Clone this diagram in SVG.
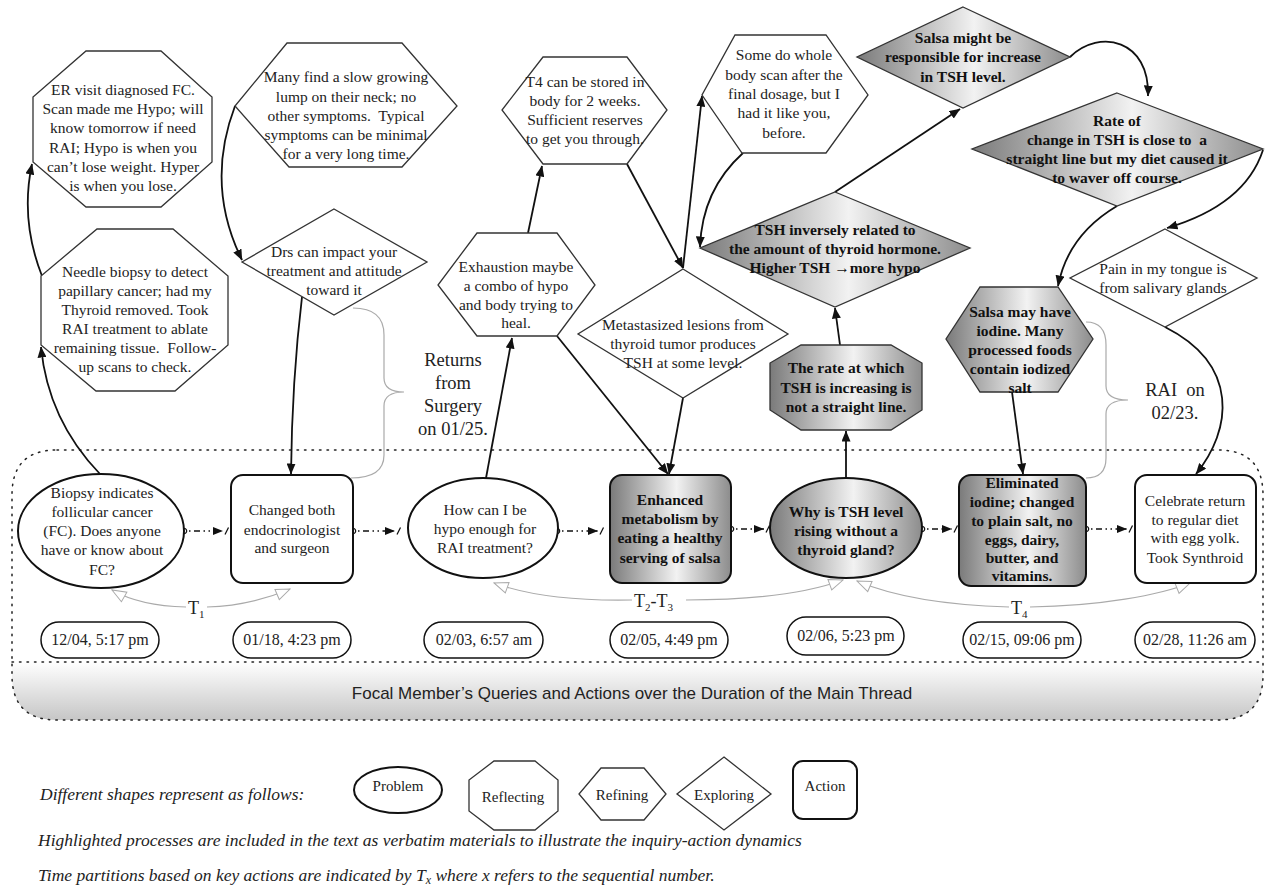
<svg xmlns="http://www.w3.org/2000/svg" width="1265" height="893" viewBox="0 0 1265 893">
<style>
.t{font-family:"Liberation Serif","Times New Roman",serif;font-size:15.5px;fill:#222;text-anchor:middle}
.b{font-weight:bold;fill:#111}
.big{font-family:"Liberation Serif","Times New Roman",serif;font-size:18.5px;fill:#222;text-anchor:middle}
.date{font-family:"Liberation Serif","Times New Roman",serif;font-size:16px;fill:#222;text-anchor:middle}
.lg{font-family:"Liberation Serif","Times New Roman",serif;font-size:15px;fill:#222;text-anchor:middle}
.it{font-family:"Liberation Serif","Times New Roman",serif;font-size:17.5px;font-style:italic;fill:#222}
.shape{fill:#fff;stroke:#333;stroke-width:1.3}
.hls{fill:url(#hl);stroke:#333;stroke-width:1.3}
.thick{fill:#fff;stroke:#111;stroke-width:2}
.thickhl{fill:url(#hl);stroke:#111;stroke-width:2}
.con{fill:none;stroke:#111;stroke-width:1.8;marker-end:url(#ah)}
.dd{fill:none;stroke:#111;stroke-width:1.6;stroke-dasharray:1.5 3.5 1.5 3.5 6 3.5;marker-start:url(#dot);marker-end:url(#ahtick)}
.tc{fill:none;stroke:#aaa;stroke-width:1.1;marker-end:url(#hollow)}
.brace{fill:none;stroke:#aaa;stroke-width:1.2}
.pill{fill:#fff;stroke:#111;stroke-width:1.5}
</style>
<defs>
<linearGradient id="hl" x1="0" y1="0" x2="1" y2="0">
<stop offset="0" stop-color="#7a7a7a"/>
<stop offset="0.55" stop-color="#f2f2f2"/>
<stop offset="1" stop-color="#8c8c8c"/>
</linearGradient>
<linearGradient id="band" x1="0" y1="0" x2="0" y2="1">
<stop offset="0" stop-color="#ffffff"/>
<stop offset="1" stop-color="#c6c6c6"/>
</linearGradient>
<marker id="ah" viewBox="0 0 11 9" refX="10.5" refY="4.5" markerWidth="11" markerHeight="9" markerUnits="userSpaceOnUse" orient="auto">
<path d="M0,0 L11,4.5 L0,9 Z" fill="#111"/>
</marker>
<marker id="ahtick" viewBox="0 0 18 10" refX="10" refY="5" markerWidth="18" markerHeight="10" markerUnits="userSpaceOnUse" orient="auto" overflow="visible">
<path d="M0,1 L10,5 L0,9 Z" fill="#111"/>
<path d="M12,8.5 L15.5,1.5" stroke="#111" stroke-width="1.3" fill="none"/>
</marker>
<marker id="dot" viewBox="0 0 8 8" refX="4" refY="4" markerWidth="8" markerHeight="8" markerUnits="userSpaceOnUse" orient="auto">
<circle cx="4" cy="4" r="2.7" fill="#fff" stroke="#111" stroke-width="1.2"/>
</marker>
<marker id="hollow" viewBox="0 0 16 13" refX="15" refY="6.5" markerWidth="16" markerHeight="13" markerUnits="userSpaceOnUse" orient="auto">
<path d="M1,1 L15,6.5 L1,12 Z" fill="#fff" stroke="#aaa" stroke-width="1"/>
</marker>
</defs>
<rect width="1265" height="893" fill="#fff"/>

<g id="timeline-frame">
<path d="M12,662 H1263 V675 Q1263,720 1218,720 H57 Q12,720 12,675 Z" fill="url(#band)"/>
<path d="M57,450 H1218 Q1263,450 1263,495 V675 Q1263,720 1218,720 H57 Q12,720 12,675 V495 Q12,450 57,450 Z" fill="none" stroke="#222" stroke-width="1.5" stroke-dasharray="1.5 6" stroke-linecap="round"/>
<line x1="12" y1="662" x2="1263" y2="662" stroke="#222" stroke-width="1.5" stroke-dasharray="1.5 6" stroke-linecap="round"/>
<text x="632" y="699" font-family="'Liberation Sans',Arial,sans-serif" font-size="17" fill="#222" text-anchor="middle">Focal Member’s Queries and Actions over the Duration of the Main Thread</text>
</g>

<g id="connectors">
<path class="con" d="M100,474 Q48,420 41,347"/>
<path class="con" d="M42,276 Q20,220 32,164"/>
<path class="con" d="M235,106 Q205,185 242,260"/>
<path class="con" d="M302,297 Q292,380 291,474"/>
<path class="con" d="M486,478 L512,338"/>
<path class="con" d="M528,233 L542,166"/>
<path class="con" d="M627,164 L683,268"/>
<path class="con" d="M557,336 L668,474"/>
<path class="con" d="M683,398 L669,474"/>
<path class="con" d="M683,268 L702,96"/>
<path class="con" d="M743,153 Q702,190 700,247"/>
<path class="con" d="M840,345 L835,308"/>
<path class="con" d="M846,479 L846,431"/>
<path class="con" d="M835,192 L960,109"/>
<path class="con" d="M1070,57 C1100,28 1150,40 1148,96"/>
<path class="con" d="M1117,206 Q1068,235 1058,286"/>
<path class="con" d="M1263,150 Q1245,205 1167,228"/>
<path class="con" d="M1165,327 C1240,365 1232,430 1196,474"/>
<path class="con" d="M1012,392 L1023,474"/>
<path class="dd" d="M184,531 L223,531"/>
<path class="dd" d="M353,531 L395,531"/>
<path class="dd" d="M557,531 L598,531"/>
<path class="dd" d="M731,529 L764,529"/>
<path class="dd" d="M922,529 L952,529"/>
<path class="dd" d="M1086,529 L1127,529"/>
<path class="tc" d="M186,607 Q140,606 112,590"/>
<path class="tc" d="M207,607 Q250,606 290,589"/>
<path class="tc" d="M632,600 C580,601 530,596 494,583"/>
<path class="tc" d="M686,600 C760,600 810,592 843,580"/>
<path class="tc" d="M1009,607 C940,605 890,595 857,581"/>
<path class="tc" d="M1030,607 C1100,606 1160,595 1190,583"/>
<path class="brace" d="M353,308 Q384,308 384,335 V378 Q384,392 404,392 Q384,392 384,406 V455 Q384,478 351,478"/>
<path class="brace" d="M1086,322 Q1106,322 1106,345 V386 Q1106,400 1128,400 Q1106,400 1106,414 V458 Q1106,478 1086,478"/>
</g>

<g id="labels">
<text class="big" x="453" y="366">Returns</text>
<text class="big" x="453" y="389">from</text>
<text class="big" x="453" y="412">Surgery</text>
<text class="big" x="453" y="435">on 01/25.</text>
<text class="big" x="1175" y="396" xml:space="preserve">RAI  on</text>
<text class="big" x="1175" y="419">02/23.</text>
<text x="188" y="614" font-family="'Liberation Serif',serif" font-size="18" fill="#222">T<tspan font-size="11" dy="4">1</tspan></text>
<text x="634" y="607" font-family="'Liberation Serif',serif" font-size="18" fill="#222">T<tspan font-size="11" dy="4">2</tspan><tspan dy="-4">-T</tspan><tspan font-size="11" dy="4">3</tspan></text>
<text x="1011" y="614" font-family="'Liberation Serif',serif" font-size="18" fill="#222">T<tspan font-size="11" dy="4">4</tspan></text>
</g>

<g id="n-er">
<polygon class="shape" points="86,51 161,51 212,97 212,162 161,207 86,207 33,162 33,97"/>
<text class="t"><tspan x="123" y="95">ER visit diagnosed FC.</tspan><tspan x="123" y="114">Scan made me Hypo; will</tspan><tspan x="123" y="133">know tomorrow if need</tspan><tspan x="123" y="153">RAI; Hypo is when you</tspan><tspan x="123" y="172">can’t lose weight. Hyper</tspan><tspan x="123" y="191">is when you lose.</tspan></text>
</g>
<g id="n-needle">
<polygon class="shape" points="97,229 173,229 228,276 228,345 175,391 96,391 41,345 41,276"/>
<text class="t" xml:space="preserve"><tspan x="135" y="277">Needle biopsy to detect</tspan><tspan x="135" y="296">papillary cancer; had my</tspan><tspan x="135" y="315">Thyroid removed. Took</tspan><tspan x="135" y="334">RAI treatment to ablate</tspan><tspan x="135" y="353">remaining tissue.  Follow-</tspan><tspan x="135" y="372">up scans to check.</tspan></text>
</g>
<g id="n-many">
<polygon class="shape" points="287,43 402,43 457,106 402,167 289,167 235,106"/>
<text class="t" xml:space="preserve"><tspan x="346" y="82">Many find a slow growing</tspan><tspan x="346" y="102">lump on their neck; no</tspan><tspan x="346" y="121">other symptoms.  Typical</tspan><tspan x="346" y="140">symptoms can be minimal</tspan><tspan x="346" y="159">for a very long time.</tspan></text>
</g>
<g id="n-drs">
<polygon class="shape" points="334,209 427,262 334,315 242,262"/>
<text class="t"><tspan x="334" y="257">Drs can impact your</tspan><tspan x="334" y="276">treatment and attitude</tspan><tspan x="334" y="295">toward it</tspan></text>
</g>
<g id="n-exhaustion">
<polygon class="shape" points="477,233 557,233 595,285 557,336 477,336 438,285"/>
<text class="t"><tspan x="516" y="272">Exhaustion maybe</tspan><tspan x="516" y="291">a combo of hypo</tspan><tspan x="516" y="310">and body trying to</tspan><tspan x="516" y="328">heal.</tspan></text>
</g>
<g id="n-t4">
<polygon class="shape" points="543,57 627,57 667,110 627,164 543,164 502,110"/>
<text class="t"><tspan x="585" y="87">T4 can be stored in</tspan><tspan x="585" y="106">body for 2 weeks.</tspan><tspan x="585" y="125">Sufficient reserves</tspan><tspan x="585" y="144">to get you through.</tspan></text>
</g>
<g id="n-meta">
<polygon class="shape" points="683,269 788,334 683,398 578,334"/>
<text class="t"><tspan x="683" y="330">Metastasized lesions from</tspan><tspan x="683" y="349">thyroid tumor produces</tspan><tspan x="683" y="368">TSH at some level.</tspan></text>
</g>
<g id="n-somedo">
<polygon class="shape" points="735,35 826,35 868,95 826,153 742,153 702,95"/>
<text class="t"><tspan x="784" y="60">Some do whole</tspan><tspan x="784" y="80">body scan after the</tspan><tspan x="784" y="99">final dosage, but I</tspan><tspan x="784" y="118">had it like you,</tspan><tspan x="784" y="138">before.</tspan></text>
</g>
<g id="n-tshinv">
<polygon class="hls" points="835,192 970,248 835,307 700,248"/>
<text class="t b"><tspan x="835" y="235">TSH inversely related to</tspan><tspan x="835" y="254">the amount of thyroid hormone.</tspan><tspan x="835" y="273">Higher TSH →more hypo</tspan></text>
</g>
<g id="n-salsamight">
<polygon class="hls" points="963,7 1070,57 963,108 857,57"/>
<text class="t b"><tspan x="963" y="43">Salsa might be</tspan><tspan x="963" y="62">responsible for increase</tspan><tspan x="963" y="82">in TSH level.</tspan></text>
</g>
<g id="n-rate">
<polygon class="hls" points="1117,93 1263,149 1117,206 972,149"/>
<text class="t b" xml:space="preserve"><tspan x="1117" y="126">Rate of</tspan><tspan x="1117" y="145">change in TSH is close to  a</tspan><tspan x="1117" y="164">straight line but my diet caused it</tspan><tspan x="1117" y="183">to waver off course.</tspan></text>
</g>
<g id="n-pain">
<polygon class="shape" points="1165,229 1257,278 1165,327 1070,278"/>
<text class="t"><tspan x="1163" y="274">Pain in my tongue is</tspan><tspan x="1163" y="293">from salivary glands</tspan></text>
</g>
<g id="n-salsamay">
<polygon class="hls" points="980,287 1058,287 1093,339 1058,392 980,392 946,339"/>
<text class="t b"><tspan x="1020" y="317">Salsa may have</tspan><tspan x="1020" y="336">iodine. Many</tspan><tspan x="1020" y="355">processed foods</tspan><tspan x="1020" y="374">contain iodized</tspan><tspan x="1020" y="393">salt</tspan></text>
</g>
<g id="n-ratestraight">
<polygon class="hls" points="801,345 891,345 922,363 922,410 891,430 801,430 770,410 770,363"/>
<text class="t b"><tspan x="846" y="373">The rate at which</tspan><tspan x="846" y="393">TSH is increasing is</tspan><tspan x="846" y="412">not a straight line.</tspan></text>
</g>

<g id="n-biopsy">
<ellipse class="thick" cx="101" cy="531" rx="83" ry="57"/>
<text class="t"><tspan x="102" y="498">Biopsy indicates</tspan><tspan x="102" y="517">follicular cancer</tspan><tspan x="102" y="536">(FC). Does anyone</tspan><tspan x="102" y="555">have or know about</tspan><tspan x="102" y="575">FC?</tspan></text>
</g>
<g id="n-changed">
<rect class="thick" x="231" y="475" width="122" height="108" rx="12"/>
<text class="t"><tspan x="292" y="515">Changed both</tspan><tspan x="292" y="535">endocrinologist</tspan><tspan x="292" y="553">and surgeon</tspan></text>
</g>
<g id="n-how">
<ellipse class="thick" cx="483" cy="528" rx="75" ry="50"/>
<text class="t"><tspan x="485" y="515">How can I be</tspan><tspan x="485" y="534">hypo enough for</tspan><tspan x="485" y="553">RAI treatment?</tspan></text>
</g>
<g id="n-enhanced">
<rect class="thickhl" x="610" y="475" width="121" height="108" rx="12"/>
<text class="t b"><tspan x="670" y="505">Enhanced</tspan><tspan x="670" y="524">metabolism by</tspan><tspan x="670" y="543">eating a healthy</tspan><tspan x="670" y="563">serving of salsa</tspan></text>
</g>
<g id="n-why">
<ellipse class="thickhl" cx="846" cy="528" rx="76" ry="50"/>
<text class="t b"><tspan x="846" y="517">Why is TSH level</tspan><tspan x="846" y="536">rising without a</tspan><tspan x="846" y="555">thyroid gland?</tspan></text>
</g>
<g id="n-eliminated">
<rect class="thickhl" x="959" y="475" width="127" height="111" rx="12"/>
<text class="t b"><tspan x="1022" y="488">Eliminated</tspan><tspan x="1022" y="507">iodine; changed</tspan><tspan x="1022" y="526">to plain salt, no</tspan><tspan x="1022" y="545">eggs, dairy,</tspan><tspan x="1022" y="563">butter, and</tspan><tspan x="1022" y="581">vitamins.</tspan></text>
</g>
<g id="n-celebrate">
<rect class="thick" x="1135" y="475" width="121" height="108" rx="12"/>
<text class="t"><tspan x="1195" y="506">Celebrate return</tspan><tspan x="1195" y="525">to regular diet</tspan><tspan x="1195" y="543">with egg yolk.</tspan><tspan x="1195" y="563">Took Synthroid</tspan></text>
</g>

<g id="dates">
<rect class="pill" x="41" y="622" width="118" height="36" rx="18"/>
<text class="date" x="100" y="645">12/04, 5:17 pm</text>
<rect class="pill" x="233" y="622" width="118" height="36" rx="18"/>
<text class="date" x="292" y="645">01/18, 4:23 pm</text>
<rect class="pill" x="424" y="622" width="119" height="36" rx="18"/>
<text class="date" x="484" y="645">02/03, 6:57 am</text>
<rect class="pill" x="610" y="622" width="118" height="36" rx="18"/>
<text class="date" x="669" y="645">02/05, 4:49 pm</text>
<rect class="pill" x="787" y="617" width="117" height="38" rx="19"/>
<text class="date" x="846" y="641">02/06, 5:23 pm</text>
<rect class="pill" x="963" y="622" width="118" height="36" rx="18"/>
<text class="date" x="1022" y="645">02/15, 09:06 pm</text>
<rect class="pill" x="1135" y="622" width="120" height="36" rx="18"/>
<text class="date" x="1195" y="645">02/28, 11:26 am</text>
</g>

<g id="legend">
<text class="it" x="40" y="800">Different shapes represent as follows:</text>
<ellipse cx="398" cy="790" rx="44" ry="23" fill="#fff" stroke="#111" stroke-width="2"/>
<text class="lg" x="398" y="791">Problem</text>
<polygon class="shape" points="494,761 535,761 558,780 558,811 535,830 494,830 469,811 469,780"/>
<text class="lg" x="513" y="802">Reflecting</text>
<polygon class="shape" points="601,768 644,768 666,794 644,820 601,820 579,794"/>
<text class="lg" x="622" y="800">Refining</text>
<polygon class="shape" points="724,757 771,794 724,830 677,794"/>
<text class="lg" x="724" y="800">Exploring</text>
<rect x="793" y="761" width="64" height="58" rx="10" fill="#fff" stroke="#111" stroke-width="2"/>
<text class="lg" x="825" y="791">Action</text>
<text class="it" x="38" y="846">Highlighted processes are included in the text as verbatim materials to illustrate the inquiry-action dynamics</text>
<text class="it" x="38" y="881">Time partitions based on key actions are indicated by T<tspan font-size="12" dy="3">x</tspan><tspan dy="-3"> where x refers to the sequential number.</tspan></text>
</g>
</svg>
